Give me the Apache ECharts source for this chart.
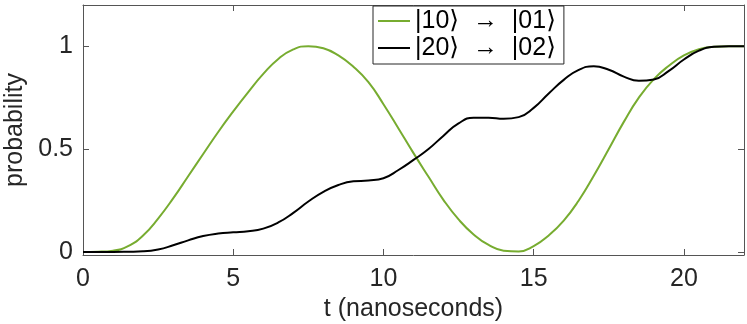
<!DOCTYPE html>
<html>
<head>
<meta charset="utf-8">
<script src="https://cdn.jsdelivr.net/npm/echarts@6/dist/echarts.min.js"></script>
<style>
  html, body { margin: 0; padding: 0; background: #fff; }
  #chart { width: 747px; height: 324px; }
</style>
</head>
<body>
<div id="chart"></div>
<script>
// time samples (ns) and the two transition probabilities
const times = [0, 0.5, 1, 1.5, 2, 2.5, 3, 3.5, 4, 4.5, 5, 5.5, 6, 6.5, 7, 7.5, 8, 8.5, 9, 9.5, 10,
  10.5, 11, 11.5, 12, 12.5, 13, 13.5, 14, 14.5, 15, 15.5, 16, 16.5, 17, 17.5, 18, 18.5, 19, 19.5,
  20, 20.5, 21, 21.5, 22]
const p10to01 = [0, 0.001, 0.006, 0.028, 0.08, 0.162, 0.26, 0.368, 0.476, 0.583, 0.683, 0.777, 0.865,
  0.938, 0.984, 1.0, 0.99, 0.955, 0.9, 0.825, 0.718, 0.6, 0.48, 0.365, 0.252, 0.158, 0.085, 0.034,
  0.006, 0.002, 0.028, 0.08, 0.152, 0.25, 0.37, 0.5, 0.632, 0.75, 0.84, 0.905, 0.955, 0.985, 0.997,
  1.0, 1.0]
const p20to02 = [0, 0, 0, 0.001, 0.003, 0.012, 0.032, 0.056, 0.077, 0.089, 0.095, 0.1, 0.113, 0.143,
  0.19, 0.245, 0.292, 0.325, 0.343, 0.347, 0.358, 0.398, 0.447, 0.5, 0.565, 0.625, 0.652, 0.652,
  0.647, 0.655, 0.7, 0.77, 0.836, 0.885, 0.902, 0.885, 0.852, 0.832, 0.838, 0.88, 0.935, 0.978,
  0.997, 1.0, 1.0]
const xTicks = [0, 5, 10, 15, 20]
const yTicks = [0, 0.5, 1]
const seriesNames = ['|10⟩  →  |01⟩', '|20⟩  →  |02⟩']

const font = '"Liberation Sans", "DejaVu Sans", Arial, sans-serif'
const axisColor = '#555'
const textColor = '#262626'

const chart = echarts.init(document.getElementById('chart'))

const frameAxis = {
  axisLine: { show: true, onZero: false, lineStyle: { color: axisColor, width: 1 } },
  axisTick: { show: true, inside: true, length: 6, lineStyle: { color: axisColor } },
  splitLine: { show: false }
}

chart.setOption({
  animation: false,
  textStyle: { fontFamily: font },
  grid: { left: 83, right: 3, top: 5, bottom: 69, outerBoundsMode: 'none', containLabel: false },
  legend: {
    orient: 'vertical',
    left: 373,
    top: 6,
    padding: [2, 8, 3, 5],
    itemGap: 1,
    itemWidth: 32,
    itemHeight: 2,
    icon: 'rect',
    backgroundColor: '#fff',
    borderColor: textColor,
    borderWidth: 1,
    borderRadius: 0,
    textStyle: { fontFamily: font, fontSize: 25, color: '#000', lineHeight: 26 },
    data: seriesNames.map(n => ({ name: n }))
  },
  xAxis: [
    Object.assign({}, frameAxis, {
      type: 'value', min: 0, max: 22, position: 'bottom',
      name: 't (nanoseconds)', nameLocation: 'middle', nameGap: 36,
      nameTextStyle: { fontFamily: font, fontSize: 25, color: textColor },
      axisTick: Object.assign({}, frameAxis.axisTick, { customValues: xTicks }),
      axisLabel: { customValues: xTicks, fontFamily: font, fontSize: 25, color: textColor, margin: 12 }
    }),
    Object.assign({}, frameAxis, {
      type: 'value', min: 0, max: 22, position: 'top',
      axisTick: Object.assign({}, frameAxis.axisTick, { customValues: xTicks }),
      axisLabel: { show: false }
    })
  ],
  yAxis: [
    Object.assign({}, frameAxis, {
      type: 'value', min: -0.015, max: 1.2, position: 'left',
      name: 'probability', nameLocation: 'middle', nameGap: 52, nameRotate: 90,
      nameTextStyle: { fontFamily: font, fontSize: 25, color: textColor },
      axisTick: Object.assign({}, frameAxis.axisTick, { customValues: yTicks }),
      axisLabel: { customValues: yTicks, fontFamily: font, fontSize: 25, color: textColor, margin: 10 }
    }),
    Object.assign({}, frameAxis, {
      type: 'value', min: -0.015, max: 1.2, position: 'right',
      axisTick: Object.assign({}, frameAxis.axisTick, { customValues: yTicks }),
      axisLabel: { show: false }
    })
  ],
  series: [
    {
      name: seriesNames[0],
      type: 'line',
      smooth: 0.5,
      symbol: 'none',
      data: times.map((t, i) => [t, p10to01[i]]),
      lineStyle: { color: '#77AC30', width: 2 },
      itemStyle: { color: '#77AC30' }
    },
    {
      name: seriesNames[1],
      type: 'line',
      smooth: 0.5,
      symbol: 'none',
      data: times.map((t, i) => [t, p20to02[i]]),
      lineStyle: { color: '#000', width: 2 },
      itemStyle: { color: '#000' }
    }
  ]
})
</script>
</body>
</html>
